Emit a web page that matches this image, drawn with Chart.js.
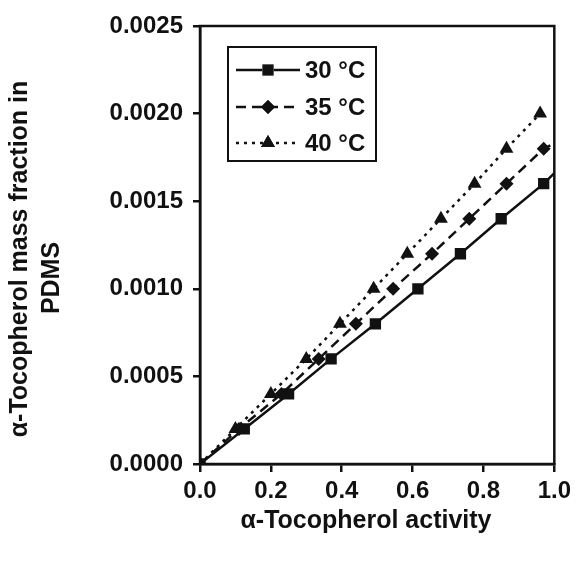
<!DOCTYPE html>
<html>
<head>
<meta charset="utf-8">
<script src="https://cdn.jsdelivr.net/npm/chart.js@4/dist/chart.umd.min.js"></script>
<style>
  html, body { margin: 0; padding: 0; background: #ffffff; }
  #wrap { width: 576px; height: 561px; }
</style>
</head>
<body>
<div id="wrap"><canvas id="c" width="576" height="561"></canvas></div>
<script>
// ---- data ----
const seriesLabels = ['30 °C', '35 °C', '40 °C'];

const activity30 = [0, 0.125, 0.25, 0.37, 0.495, 0.615, 0.735, 0.85, 0.97];
const fraction30 = [0, 0.0002, 0.0004, 0.0006, 0.0008, 0.0010, 0.0012, 0.0014, 0.0016];

const activity35 = [0, 0.11, 0.23, 0.335, 0.44, 0.545, 0.655, 0.76, 0.865, 0.97];
const fraction35 = [0, 0.0002, 0.0004, 0.0006, 0.0008, 0.0010, 0.0012, 0.0014, 0.0016, 0.0018];

const activity40 = [0, 0.1, 0.2, 0.3, 0.395, 0.49, 0.585, 0.68, 0.775, 0.865, 0.96];
const fraction40 = [0, 0.0002, 0.0004, 0.0006, 0.0008, 0.0010, 0.0012, 0.0014, 0.0016, 0.0018, 0.0020];

// unmarked end of the drawn lines (they run on to the right axis)
const lineEndActivity = 1.0;
const lineEnd30 = 0.00166;
const lineEnd35 = 0.00183;

const xTicks = [0, 0.2, 0.4, 0.6, 0.8, 1.0];
const yTicks = [0, 0.0005, 0.0010, 0.0015, 0.0020, 0.0025];

const xTitle = 'α-Tocopherol activity';
const yTitle = ['α-Tocopherol mass fraction in', 'PDMS'];

// ---- build ----
function pts(xs, ys) { return xs.map((x, i) => ({ x: x, y: ys[i] })); }
const d30 = pts(activity30, fraction30).concat([{ x: lineEndActivity, y: lineEnd30 }]);
const d35 = pts(activity35, fraction35).concat([{ x: lineEndActivity, y: lineEnd35 }]);
const d40 = pts(activity40, fraction40);

function radii(n, r, extra) {
  const a = new Array(n).fill(r);
  for (let i = 0; i < extra; i++) a.push(0);
  return a;
}

const INK = '#111111';
const FONT = "'Liberation Sans', Arial, Helvetica, sans-serif";

const datasets = [
  { label: seriesLabels[0], data: d30, borderColor: INK, backgroundColor: INK,
    borderWidth: 2.5, borderDash: [], pointStyle: 'rect',
    pointRadius: radii(activity30.length, 8, 1), legendRadius: 8 },
  { label: seriesLabels[1], data: d35, borderColor: INK, backgroundColor: INK,
    borderWidth: 2.5, borderDash: [10, 6], pointStyle: 'rectRot',
    pointRadius: radii(activity35.length, 7, 1), legendRadius: 7 },
  { label: seriesLabels[2], data: d40, borderColor: INK, backgroundColor: INK,
    borderWidth: 2.5, borderDash: [3, 5], pointStyle: 'triangle',
    pointRadius: radii(activity40.length, 8, 0), legendRadius: 8 }
];
datasets.forEach(ds => { ds.pointBorderWidth = 0; ds.tension = 0; ds.fill = false; ds.pointHoverRadius = ds.pointRadius; });

const framePlugin = {
  id: 'frame',
  afterDatasetsDraw(chart) {
    const { ctx, chartArea: a } = chart;
    ctx.save();
    ctx.strokeStyle = INK;
    ctx.lineWidth = 2.5;
    ctx.strokeRect(a.left, a.top, a.right - a.left, a.bottom - a.top);
    ctx.restore();
  }
};

// axis titles drawn by hand so that their placement can follow the reference
const axisTitlePlugin = {
  id: 'axisTitleText',
  afterDraw(chart) {
    const { ctx } = chart;
    const centers = [[20, 259], [52, 278]];
    ctx.save();
    ctx.fillStyle = INK;
    ctx.font = 'bold 25px ' + FONT;
    ctx.textAlign = 'center';
    ctx.textBaseline = 'middle';
    yTitle.forEach((line, i) => {
      ctx.save();
      ctx.translate(centers[i][0], centers[i][1]);
      ctx.rotate(-Math.PI / 2);
      ctx.fillText(line, 0, 0);
      ctx.restore();
    });
    ctx.fillText(xTitle, 366, 521);
    ctx.restore();
  }
};

const legendBoxPlugin = {
  id: 'legendBox',
  afterDraw(chart) {
    const { ctx } = chart;
    const bx = 228, by = 47, bw = 148, bh = 114;
    ctx.save();
    ctx.fillStyle = '#ffffff';
    ctx.fillRect(bx, by, bw, bh);
    ctx.strokeStyle = INK;
    ctx.lineWidth = 2;
    ctx.strokeRect(bx, by, bw, bh);
    const rows = [70, 107, 143];
    chart.data.datasets.forEach((ds, i) => {
      const y = rows[i];
      ctx.save();
      ctx.strokeStyle = ds.borderColor;
      ctx.lineWidth = ds.borderWidth;
      ctx.setLineDash(ds.borderDash);
      ctx.beginPath();
      ctx.moveTo(236, y);
      ctx.lineTo(300, y);
      ctx.stroke();
      ctx.restore();
      Chart.helpers.drawPoint(ctx, { pointStyle: ds.pointStyle, radius: ds.legendRadius, borderWidth: 0 }, 268, y);
      ctx.fillStyle = INK;
      ctx.fill();
      ctx.fillStyle = INK;
      ctx.font = 'bold 24px ' + FONT;
      ctx.textBaseline = 'middle';
      ctx.textAlign = 'left';
      ctx.fillText(ds.label, 305, y + 1);
    });
    ctx.restore();
  }
};

new Chart(document.getElementById('c'), {
  type: 'line',
  data: { datasets: datasets },
  options: {
    responsive: false,
    animation: false,
    events: [],
    layout: { padding: { top: 26, right: 20, left: 4, bottom: 0 } },
    plugins: { legend: { display: false }, tooltip: { enabled: false } },
    scales: {
      x: {
        type: 'linear',
        min: 0, max: 1.0,
        afterFit(scale) { scale.height = 97; },
        afterBuildTicks(scale) { scale.ticks = xTicks.map(v => ({ value: v })); },
        ticks: {
          color: INK, padding: 5,
          font: { family: FONT, size: 24, weight: 'bold' },
          callback: v => Number(v).toFixed(1)
        },
        grid: { display: true, drawOnChartArea: false, drawTicks: true, tickLength: 8, color: INK, lineWidth: 2.5 },
        border: { display: true, color: INK, width: 2.5 },
        title: { display: false }
      },
      y: {
        type: 'linear',
        min: 0, max: 0.0025,
        afterFit(scale) { scale.width = 196; },
        afterBuildTicks(scale) { scale.ticks = yTicks.map(v => ({ value: v })); },
        ticks: {
          color: INK, padding: 10,
          font: { family: FONT, size: 24, weight: 'bold' },
          callback: v => Number(v).toFixed(4)
        },
        grid: { display: true, drawOnChartArea: false, drawTicks: true, tickLength: 7, color: INK, lineWidth: 2.5 },
        border: { display: true, color: INK, width: 2.5 },
        title: { display: false }
      }
    }
  },
  plugins: [framePlugin, axisTitlePlugin, legendBoxPlugin]
});
</script>
</body>
</html>
